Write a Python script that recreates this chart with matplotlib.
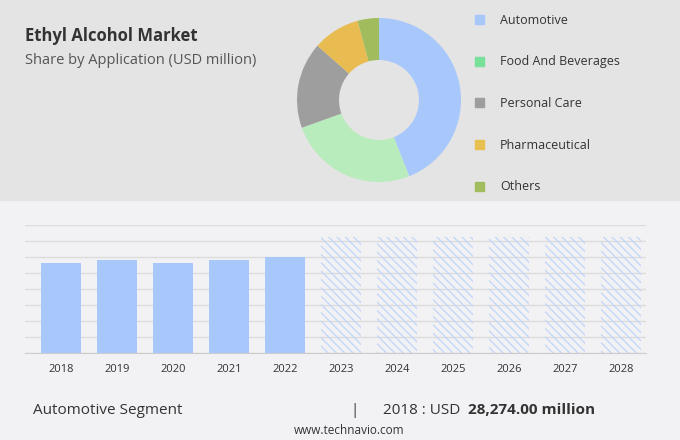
import matplotlib
matplotlib.use("Agg")
import matplotlib.pyplot as plt
from matplotlib.patches import Rectangle

plt.rcParams['font.family'] = ['Open Sans', 'DejaVu Sans']
plt.rcParams['hatch.linewidth'] = 1.0

segments = ["Automotive", "Food And Beverages", "Personal Care", "Pharmaceutical", "Others"]
shares = [44, 25.5, 17, 9.3, 4.2]
seg_colors = ["#a8c8fc", "#b8ecbc", "#9e9e9e", "#e8bc50", "#a0bc5c"]
legend_colors = ["#a8c8fc", "#78e098", "#9e9e9e", "#e8c050", "#a0bc5c"]

years = ["2018", "2019", "2020", "2021", "2022"]
values = [28274, 29200, 28274, 29200, 30140]
forecast_years = ["2023", "2024", "2025", "2026", "2027", "2028"]
forecast_values = [36350] * 6

W, H = 680, 440
fig = plt.figure(figsize=(W/100, H/100), dpi=100)
fig.patch.set_facecolor("#f2f2f4")
fig.add_artist(Rectangle((0, 1-200/H), 1, 200/H, transform=fig.transFigure, color="#e4e4e4", zorder=0))

fig.text(25/W, 1-36/H, "Ethyl Alcohol Market", fontsize=12, fontweight="bold", color="#333333", va="center")
fig.text(25/W, 1-61/H, "Share by Application (USD million)", fontsize=10.5, color="#555555", va="center")

# donut
r = 82
axp = fig.add_axes([(379-r)/W, 1-(100+r)/H, 2*r/W, 2*r/H])
axp.pie(shares, colors=seg_colors, startangle=90, counterclock=False,
        wedgeprops=dict(width=42/82, linewidth=0))
axp.set_xlim(-1, 1)
axp.set_ylim(-1, 1)
axp.axis("off")

for i, (s, c) in enumerate(zip(segments, legend_colors)):
    y = 1-(20+41.7*i)/H
    fig.add_artist(Rectangle((475/W, y-4/H), 9/W, 9/H, transform=fig.transFigure, color=c))
    fig.text(500/W, y, s, fontsize=9, color="#333333", va="center")

# bar chart
ax = fig.add_axes([25/W, 1-353/H, 621/W, 128/H])
ax.set_facecolor("none")
x = list(range(len(years)))
xf = list(range(len(years), len(years)+len(forecast_years)))
ax.bar(x, values, width=0.71, color="#a8c8fc", zorder=2)
ax.bar(xf, forecast_values, width=0.71, facecolor="none", edgecolor="#c4d8f8", hatch="\\\\\\\\", linewidth=0, zorder=2)
ax.set_xlim(-0.64, 10.45)
ax.set_ylim(0, 40000)
ax.set_yticks(range(0, 40001, 5000))
ax.yaxis.grid(True, color="#dcdcdc", linewidth=1, zorder=0)
ax.set_yticklabels([])
ax.tick_params(axis="y", length=0)
ax.set_xticks(x + xf)
ax.set_xticklabels(years + forecast_years, fontsize=8, color="#333333")
ax.tick_params(axis="x", length=0, pad=8)
for s in ["top", "right", "left"]:
    ax.spines[s].set_visible(False)
ax.spines["bottom"].set_color("#cccccc")

fig.text(33/W, 1-410/H, "Automotive Segment", fontsize=11, color="#333333", va="center")
fig.text(350/W, 1-410/H, "|", fontsize=11, color="#333333", va="center")
fig.text(383/W, 1-410/H, "2018 : USD", fontsize=11, color="#333333", va="center")
fig.text(468/W, 1-410/H, "28,274.00 million", fontsize=11, fontweight="bold", color="#333333", va="center")
fig.text(349/W, 1-430/H, "www.technavio.com", fontsize=8.5, color="#333333", va="center", ha="center")

fig.savefig("out.png", dpi=100, facecolor=fig.get_facecolor())
